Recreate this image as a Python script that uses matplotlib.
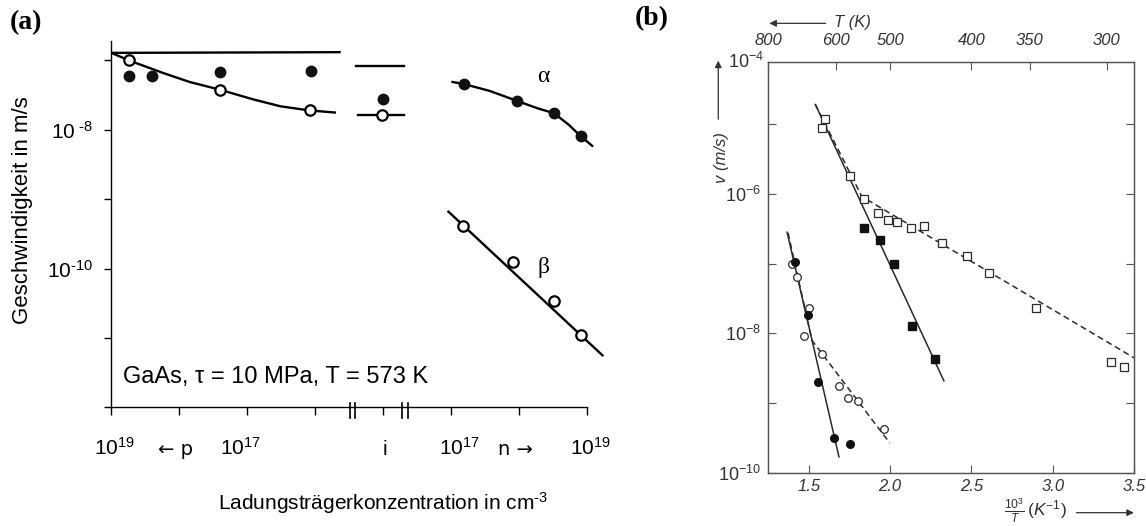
import numpy as np
import matplotlib.pyplot as plt
import matplotlib.transforms as mtransforms

plt.rcParams['font.family'] = ['Liberation Sans', 'DejaVu Sans']
plt.rcParams['mathtext.fontset'] = 'custom'
plt.rcParams['mathtext.rm'] = 'Liberation Sans'
plt.rcParams['mathtext.it'] = 'Liberation Sans:italic'

# ---------------- panel (a) ----------------
# x in tick units: 0 = 1e19 (p) ... 4 = i ... 7 = 1e19 (n)
# y values are log10(v in m/s)
top_line_x = [0.01, 3.36]
top_line_y = [-6.89, -6.88]
mid_line_x = [3.60, 4.30]
mid_line_y = [-7.08, -7.08]

p_filled_x = [0.27, 0.60, 1.60, 2.94]
p_filled_y = [-7.22, -7.22, -7.16, -7.15]
p_open_x = [0.27, 1.60, 2.92]
p_open_y = [-7.00, -7.42, -7.72]
p_curve_x = [0.01, 0.27, 0.77, 1.16, 1.60, 2.09, 2.49, 2.92, 3.29]
p_curve_y = [-6.89, -7.00, -7.18, -7.31, -7.42, -7.56, -7.66, -7.72, -7.75]

i_filled_x = [4.00]
i_filled_y = [-7.56]
i_open_x = [3.99]
i_open_y = [-7.79]
i_line_x = [3.63, 4.31]
i_line_y = [-7.79, -7.79]

alpha_x = [5.19, 5.96, 6.51, 6.90]
alpha_y = [-7.34, -7.58, -7.76, -8.09]
alpha_curve_x = [5.02, 5.19, 5.57, 5.96, 6.27, 6.51, 6.73, 6.90, 7.07]
alpha_curve_y = [-7.31, -7.34, -7.44, -7.58, -7.69, -7.76, -7.93, -8.09, -8.23]

beta_x = [5.18, 5.91, 6.51, 6.91]
beta_y = [-9.38, -9.90, -10.47, -10.96]
beta_line_x = [4.96, 7.22]
beta_line_y = [-9.18, -11.25]

xlab_pos = [0.06, 0.95, 1.91, 4.03, 5.12, 5.94, 7.05]
xlab_txt = [r'$10^{19}$', '\u2190 p', r'$10^{17}$', 'i', r'$10^{17}$', 'n \u2192', r'$10^{19}$']
breaks = [3.55, 4.32]

# ---------------- panel (b) ----------------
# x = 1000/T (1/K), y = log10(v in m/s)
sq_open_x = [1.599, 1.580, 1.756, 1.841, 1.928, 1.988, 2.043, 2.129, 2.210, 2.321,
             2.472, 2.607, 2.896, 3.359, 3.436]
sq_open_y = [-4.93, -5.05, -5.74, -6.07, -6.27, -6.37, -6.40, -6.49, -6.46, -6.71,
             -6.89, -7.13, -7.63, -8.41, -8.48]
sq_filled_x = [1.841, 1.937, 2.024, 2.135, 2.276]
sq_filled_y = [-6.49, -6.66, -7.01, -7.89, -8.36]
sq_solid_x = [1.541, 2.331]
sq_solid_y = [-4.72, -8.68]
sq_dash_x = [1.541, 1.827, 3.50]
sq_dash_y = [-4.72, -6.04, -8.35]

ci_filled_x = [1.417, 1.498, 1.560, 1.655, 1.752]
ci_filled_y = [-6.98, -7.74, -8.70, -9.50, -9.59]
ci_open_x = [1.399, 1.427, 1.500, 1.474, 1.579, 1.688, 1.740, 1.802, 1.960]
ci_open_y = [-7.00, -7.19, -7.63, -8.03, -8.30, -8.76, -8.93, -8.97, -9.37]
ci_solid_x = [1.367, 1.686]
ci_solid_y = [-6.55, -9.77]
ci_dash_x = [1.373, 1.52, 1.998]
ci_dash_y = [-6.56, -8.10, -9.57]

T_ticks = [800, 600, 500, 400, 350, 300]
inv_ticks = [1.5, 2.0, 2.5, 3.0, 3.5]


def v(a):
    return np.power(10.0, a)


fig = plt.figure(figsize=(11.46, 5.26), dpi=100)

# ================= (a) =================
ax = fig.add_axes([0.0966, 0.2257, 0.4338, 0.6970])
ax.set_yscale('log')
ax.set_xlim(0, 7.3)
ax.set_ylim(1e-12, 10 ** -6.714)
for s in ['top', 'right']:
    ax.spines[s].set_visible(False)
ax.spines['bottom'].set_bounds(0, 7)
ax.spines['left'].set_linewidth(1.0)
ax.spines['bottom'].set_linewidth(1.0)

ax.set_xticks(range(8))
ax.set_xticklabels([''] * 8)
ax.tick_params(axis='x', direction='out', length=6, width=1.0)
ax.set_yticks(v(np.arange(-12, -6)))
ax.yaxis.set_minor_locator(plt.NullLocator())
ax.set_yticklabels(['', '', r'$10^{\text{-10}}$', '', r'$10^{\text{ -8}}$', ''], fontsize=15)
ax.tick_params(axis='y', direction='out', length=5, width=1.0, pad=8)

lw = 1.7
ax.plot(top_line_x, v(top_line_y), color='k', lw=lw)
ax.plot(mid_line_x, v(mid_line_y), color='k', lw=lw)
ax.plot(p_curve_x, v(p_curve_y), color='k', lw=lw)
ax.plot(i_line_x, v(i_line_y), color='k', lw=lw)
ax.plot(alpha_curve_x, v(alpha_curve_y), color='k', lw=lw)
ax.plot(beta_line_x, v(beta_line_y), color='k', lw=lw)

filled = dict(ls='none', marker='o', ms=7.5, mfc='#111111', mec='#111111')
opened = dict(ls='none', marker='o', ms=7.5, mfc='white', mec='k', mew=1.6)
ax.plot(p_filled_x, v(p_filled_y), **filled)
ax.plot(i_filled_x, v(i_filled_y), **filled)
ax.plot(alpha_x, v(alpha_y), **filled)
ax.plot(p_open_x, v(p_open_y), **opened)
ax.plot(i_open_x, v(i_open_y), **opened)
ax.plot(beta_x, v(beta_y), **opened)

ax.text(6.35, v(-7.23), '\u03b1', fontsize=17, family='Liberation Serif',
        ha='center', va='center')
ax.text(6.35, v(-9.98), '\u03b2', fontsize=17, family='Liberation Serif',
        ha='center', va='center')
ax.text(0.025, 0.082, 'GaAs, \u03c4 = 10 MPa, T = 573 K', transform=ax.transAxes,
        fontsize=17, ha='left', va='center')

trans = mtransforms.blended_transform_factory(ax.transData, ax.transAxes)
for xp, t in zip(xlab_pos, xlab_txt):
    if '\u2190' in t or '\u2192' in t:
        ax.text(xp, -0.130, t, transform=trans, fontsize=14, ha='center', va='baseline',
                family=['DejaVu Sans'])
    else:
        ax.text(xp, -0.130, t, transform=trans, fontsize=15, ha='center', va='baseline')
for b in breaks:
    for dx in (-0.042, 0.042):
        ax.plot([b + dx, b + dx], [-0.029, 0.012], transform=trans, color='k',
                lw=1.2, clip_on=False)

ax.set_xlabel(r'Ladungsträgerkonzentration in cm$^{\text{-3}}$', fontsize=15, va='center')
ax.xaxis.set_label_coords(0.548, -0.262)
ax.set_ylabel('Geschwindigkeit in m/s', fontsize=16, va='center', ha='center')
ax.yaxis.set_label_coords(-0.177, 0.539)

fig.text(0.0227, 0.957, '(a)', fontsize=20, fontweight='bold',
         family='Liberation Serif', ha='center', va='center')

# ================= (b) =================
gray = '#2a2a2a'
bx = fig.add_axes([0.6702, 0.1008, 0.3194, 0.7814])
bx.set_yscale('log')
bx.set_xlim(1.25, 3.5)
bx.set_ylim(1e-10, 10 ** -4.11)
for s in bx.spines.values():
    s.set_color('#555555')
    s.set_linewidth(0.9)

bx.set_xticks(inv_ticks)
bx.set_xticklabels([f'{t:.1f}' for t in inv_ticks], fontstyle='italic', fontsize=12,
                   color='#333333')
bx.set_yticks(v(np.arange(-10, -4)))
bx.yaxis.set_minor_locator(plt.NullLocator())
bx.set_yticklabels([r'$\mathit{10^{-10}}$', '', r'$\mathit{10^{-8}}$', '',
                    r'$\mathit{10^{-6}}$', ''], fontsize=13, color='#333333')
bx.tick_params(axis='both', direction='in', length=6, width=0.8, color='#555555')
bx.tick_params(axis='y', right=True, pad=5)
bx.tick_params(axis='x', pad=4)
bx.text(-0.012, 1.0, r'$\mathit{10^{-4}}$', transform=bx.transAxes, fontsize=13,
        color='#333333', ha='right', va='center')

top = bx.twiny()
top.set_xlim(bx.get_xlim())
top.set_xticks([1000.0 / t for t in T_ticks])
top.set_xticklabels([str(t) for t in T_ticks], fontstyle='italic', fontsize=12,
                    color='#333333')
top.tick_params(axis='x', direction='in', length=6, width=0.8, color='#555555', pad=10)
for s in top.spines.values():
    s.set_color('#555555')
    s.set_linewidth(0.9)

bx.plot(sq_solid_x, v(sq_solid_y), color=gray, lw=1.1)
bx.plot(sq_dash_x, v(sq_dash_y), color=gray, lw=1.1, ls=(0, (4, 2.5)))
bx.plot(ci_solid_x, v(ci_solid_y), color=gray, lw=1.1)
bx.plot(ci_dash_x, v(ci_dash_y), color=gray, lw=1.1, ls=(0, (4, 2.5)))

bx.plot(sq_open_x, v(sq_open_y), ls='none', marker='s', ms=5.5, mfc='white', mec=gray, mew=0.9)
bx.plot(sq_filled_x, v(sq_filled_y), ls='none', marker='s', ms=5.5, mfc='#111111', mec='#111111')
bx.plot(ci_open_x, v(ci_open_y), ls='none', marker='o', ms=5.5, mfc='white', mec=gray, mew=0.9)
bx.plot(ci_filled_x, v(ci_filled_y), ls='none', marker='o', ms=5.5, mfc='#111111', mec='#111111')

arrow = dict(arrowstyle='-|>', lw=0.9, color='#333333', mutation_scale=10)
bx.annotate('', xy=(-0.004, 1.094), xytext=(0.165, 1.094), xycoords='axes fraction',
            textcoords='axes fraction', arrowprops=arrow, annotation_clip=False)
bx.text(0.2295, 1.096, 'T (K)', transform=bx.transAxes, fontsize=12, fontstyle='italic',
        color='#333333', ha='center', va='center')
bx.annotate('', xy=(-0.136, 1.01), xytext=(-0.136, 0.854), xycoords='axes fraction',
            textcoords='axes fraction', arrowprops=arrow, annotation_clip=False)
bx.text(-0.127, 0.768, 'v (m/s)', transform=bx.transAxes, fontsize=12, fontstyle='italic',
        color='#333333', ha='center', va='center', rotation=90)
bx.annotate('', xy=(1.007, -0.0966), xytext=(0.835, -0.0966), xycoords='axes fraction',
            textcoords='axes fraction', arrowprops=arrow, annotation_clip=False)
bx.text(0.73, -0.092, r'$\frac{\mathit{10^3}}{\mathit{T}}\,\mathit{(K^{-1})}$',
        transform=bx.transAxes, fontsize=12.5, color='#333333', ha='center', va='center')

fig.text(0.5687, 0.965, '(b)', fontsize=20, fontweight='bold',
         family='Liberation Serif', ha='center', va='center')

fig.savefig('out.png', dpi=100)
